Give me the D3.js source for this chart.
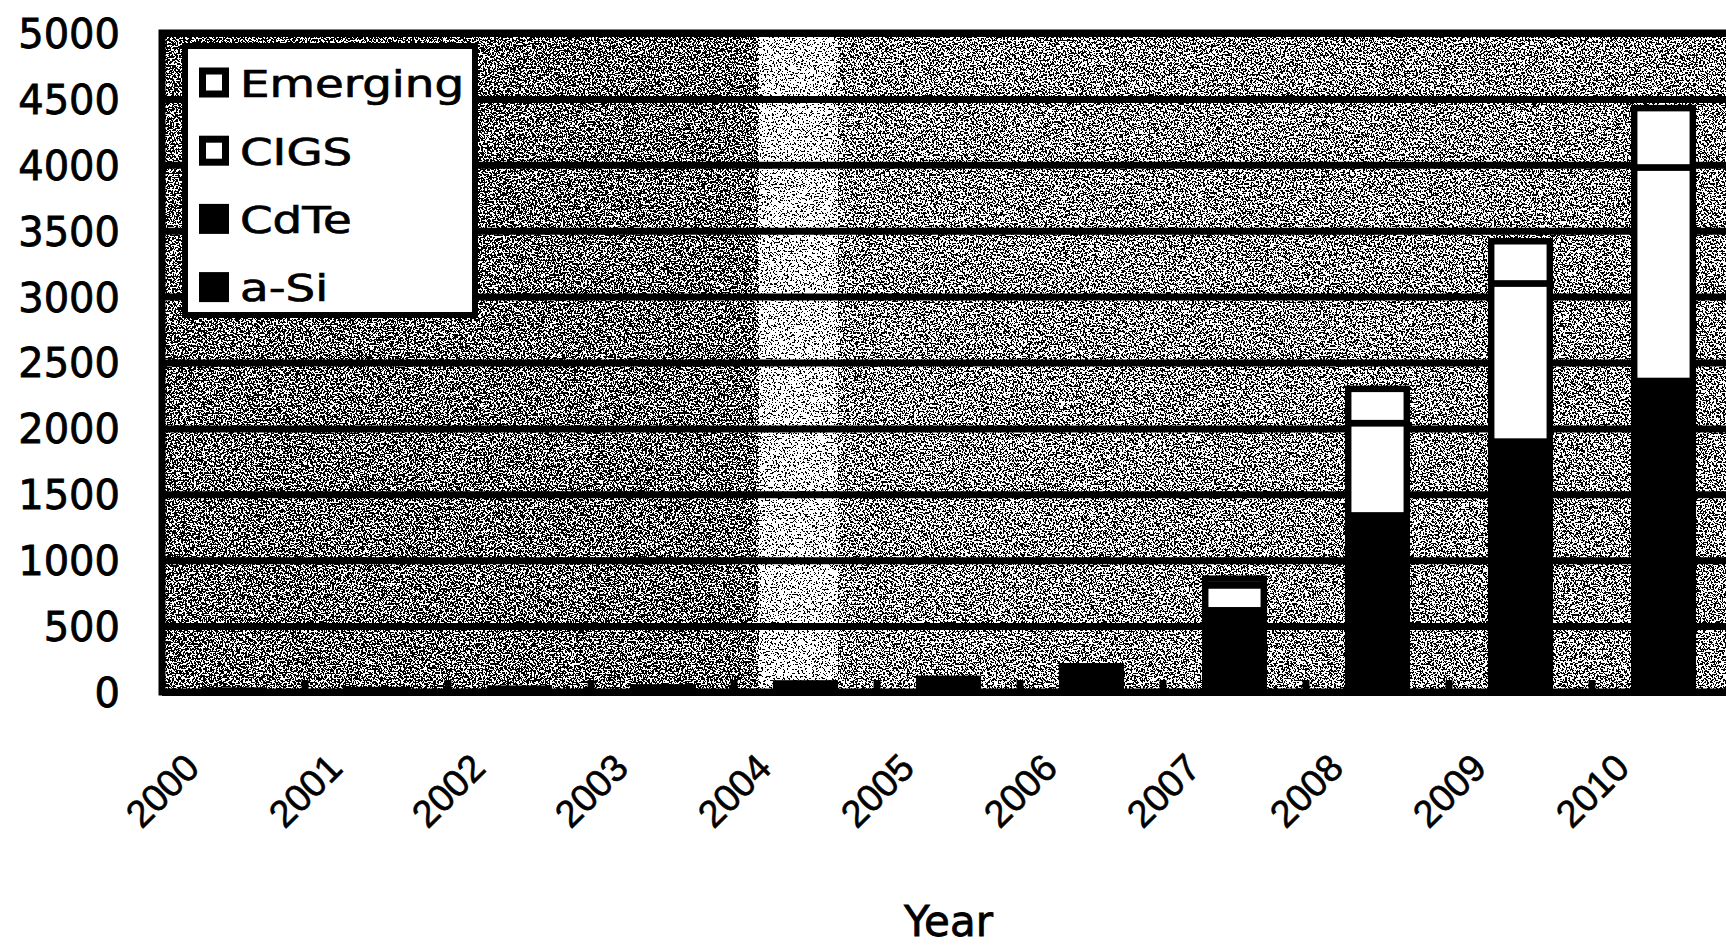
<!DOCTYPE html>
<html>
<head>
<meta charset="utf-8">
<script src="https://cdn.jsdelivr.net/npm/d3@7.8.5/dist/d3.min.js"></script>
<style>
  html, body { margin: 0; padding: 0; background: #fff; }
  svg { display: block; }
  text { font-family: "DejaVu Sans", sans-serif; fill: #000; }
</style>
</head>
<body>
<div id="chart"></div>
<script>
// values (MW per year)
const years = ["2000", "2001", "2002", "2003", "2004", "2005", "2006", "2007", "2008", "2009", "2010"];
const aSi = [8, 10, 15, 20, 40, 60, 110, 350, 750, 1050, 1300];
const cdTe = [2, 5, 10, 15, 25, 40, 80, 270, 590, 850, 1060];
const cigs = [0, 0, 0, 0, 0, 0, 5, 190, 700, 1200, 1620];
const emerging = [0, 0, 0, 0, 0, 0, 0, 50, 260, 320, 450];
const seriesNames = ["a-Si", "CdTe", "CIGS", "Emerging"];
const yTickValues = [0, 500, 1000, 1500, 2000, 2500, 3000, 3500, 4000, 4500, 5000];

const width = 1726, height = 947;
const margin = { top: 33, left: 162, bottom: 255, right: -9 };
const plotRight = width - margin.right;
const plotBottom = height - margin.bottom;

const fills = { "a-Si": "#000", "CdTe": "#000", "CIGS": "#fff", "Emerging": "#fff" };

const svg = d3.select("#chart").append("svg")
  .attr("width", width)
  .attr("height", height)
  .style("overflow", "hidden");

// halftone look of the scan
const defs = svg.append("defs");
const filter = defs.append("filter")
  .attr("id", "halftone")
  .attr("x", 0).attr("y", 0).attr("width", 1).attr("height", 1)
  .attr("color-interpolation-filters", "sRGB");
filter.append("feTurbulence")
  .attr("type", "fractalNoise")
  .attr("baseFrequency", 0.55)
  .attr("numOctaves", 2)
  .attr("seed", 7)
  .attr("result", "n");
filter.append("feColorMatrix")
  .attr("in", "n")
  .attr("type", "matrix")
  .attr("values", "3 0 0 0 -1  3 0 0 0 -1  3 0 0 0 -1  0 0 0 0 1")
  .attr("result", "ns");
filter.append("feComposite")
  .attr("in", "SourceGraphic")
  .attr("in2", "ns")
  .attr("operator", "arithmetic")
  .attr("k1", 0).attr("k2", 1).attr("k3", 1).attr("k4", -0.5)
  .attr("result", "sum");
const ct = filter.append("feComponentTransfer").attr("in", "sum");
["feFuncR", "feFuncG", "feFuncB"].forEach((f) =>
  ct.append(f).attr("type", "discrete").attr("tableValues", "0 1"),
);
ct.append("feFuncA").attr("type", "linear").attr("slope", 0).attr("intercept", 1);

const x = d3.scaleBand().domain(years).range([margin.left, plotRight]);
const y = d3.scaleLinear().domain([0, 5000]).range([plotBottom, margin.top]);
const barW = x.bandwidth() * 0.41;

// plot background (darker left part, light stripe near 2004)
const bg = svg.append("g").attr("filter", "url(#halftone)");
const stripeL = x("2004") + x.bandwidth() * 0.17;
const stripeR = x("2004") + x.bandwidth() * 0.73;
bg.append("rect")
  .attr("x", margin.left).attr("y", margin.top)
  .attr("width", stripeL - margin.left).attr("height", plotBottom - margin.top)
  .attr("fill", "rgb(112,112,112)");
bg.append("rect")
  .attr("x", stripeL).attr("y", margin.top)
  .attr("width", stripeR - stripeL).attr("height", plotBottom - margin.top)
  .attr("fill", "rgb(200,200,200)");
bg.append("rect")
  .attr("x", stripeR).attr("y", margin.top)
  .attr("width", plotRight - stripeR).attr("height", plotBottom - margin.top)
  .attr("fill", "rgb(138,138,138)");

// gridlines
svg.append("g")
  .attr("class", "grid")
  .attr("transform", `translate(${margin.left},0)`)
  .call(d3.axisLeft(y).tickValues(yTickValues).tickSize(-(plotRight - margin.left)).tickFormat(""))
  .call((g) => g.select(".domain").remove())
  .call((g) => g.selectAll(".tick line").attr("stroke", "#000").attr("stroke-width", 7));

// y labels
svg.append("g")
  .attr("transform", `translate(${margin.left},0)`)
  .call(d3.axisLeft(y).tickValues(yTickValues).tickSize(0).tickPadding(42).tickFormat(d3.format("d")))
  .call((g) => g.select(".domain").remove())
  .call((g) => g.selectAll(".tick text")
    .style("font-size", "40px")
    .attr("dy", "0.36em")
    .attr("stroke", "#000")
    .attr("stroke-width", 0.8));

// stacked bars
const table = years.map((yr, i) => ({ year: yr, "a-Si": aSi[i], "CdTe": cdTe[i], "CIGS": cigs[i], "Emerging": emerging[i] }));
const stacked = d3.stack().keys(seriesNames)(table);

svg.append("g")
  .selectAll("g")
  .data(stacked)
  .join("g")
  .attr("fill", (d) => fills[d.key])
  .selectAll("rect")
  .data((d) => d.filter((p) => p[1] - p[0] > 0))
  .join("rect")
  .attr("x", (d) => x(d.data.year) + (x.bandwidth() - barW) / 2)
  .attr("y", (d) => y(d[1]))
  .attr("width", barW)
  .attr("height", (d) => y(d[0]) - y(d[1]))
  .attr("stroke", "#000")
  .attr("stroke-width", 6.5);

// plot frame
svg.append("rect")
  .attr("x", margin.left).attr("y", margin.top)
  .attr("width", plotRight - margin.left).attr("height", plotBottom - margin.top)
  .attr("fill", "none")
  .attr("stroke", "#000")
  .attr("stroke-width", 7);

// category tick marks sit on band boundaries
svg.append("g")
  .selectAll("line")
  .data(years.slice(1))
  .join("line")
  .attr("x1", (d) => x(d)).attr("x2", (d) => x(d))
  .attr("y1", plotBottom).attr("y2", plotBottom - 12)
  .attr("stroke", "#000")
  .attr("stroke-width", 7);

// x labels
svg.append("g")
  .attr("transform", `translate(0,${plotBottom})`)
  .call(d3.axisBottom(x).tickSize(0))
  .call((g) => g.select(".domain").remove())
  .call((g) => g.selectAll(".tick text")
    .attr("x", 0).attr("y", 0).attr("dy", 0)
    .attr("text-anchor", "end")
    .attr("transform", "translate(-32,78) rotate(-45)")
    .style("font-family", "'Liberation Sans', Arial, sans-serif")
    .style("font-size", "38px")
    .attr("stroke", "#000")
    .attr("stroke-width", 0.6));

// axis title
svg.append("text")
  .attr("x", (margin.left + plotRight) / 2)
  .attr("y", 936)
  .attr("text-anchor", "middle")
  .style("font-size", "42px")
  .attr("stroke", "#000")
  .attr("stroke-width", 0.8)
  .text("Year");

// legend
const legend = svg.append("g").attr("class", "legend");
legend.append("rect")
  .attr("x", 185).attr("y", 46)
  .attr("width", 290).attr("height", 269)
  .attr("fill", "#fff")
  .attr("stroke", "#000")
  .attr("stroke-width", 6);

const legendKeys = seriesNames.slice().reverse();
legendKeys.forEach((key, i) => {
  const cy = 82.5 + i * 68.2;
  const item = legend.append("g").attr("transform", `translate(0,${cy})`);
  item.append("rect")
    .attr("x", 202.5).attr("y", -11.5)
    .attr("width", 23).attr("height", 23)
    .attr("fill", fills[key])
    .attr("stroke", "#000")
    .attr("stroke-width", 7);
  item.append("text")
    .attr("transform", "translate(240,14) scale(1.23,1)")
    .style("font-size", "38px")
    .attr("stroke", "#000")
    .attr("stroke-width", 0.7)
    .text(key);
});
</script>
</body>
</html>
